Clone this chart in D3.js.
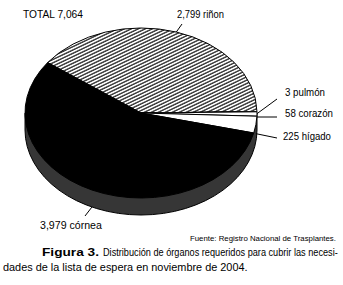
<!DOCTYPE html>
<html>
<head>
<meta charset="utf-8">
<script src="https://cdn.jsdelivr.net/npm/d3@7"></script>
<style>
  body { margin: 0; background: #fff; }
  text { font-family: "Liberation Sans", Arial, sans-serif; fill: #000; }
</style>
</head>
<body>
<svg id="chart" width="343" height="285"></svg>
<script>
// data
const organs = ['riñon', 'pulmón', 'corazón', 'hígado', 'córnea'];
const counts = [2799, 3, 58, 225, 3979];
const labels = ['2,799 riñon', '3 pulmón', '58 corazón', '225 hígado', '3,979 córnea'];
const total = 7064;

// layout
const cx = 141, cy = 113, rx = 116, ry = 85, depth = 17;
const start = -53.6 * Math.PI / 180;
const fills = ['url(#hatch)', '#fff', '#fff', '#fff', '#000'];
// label anchor + width, leader end, leader start shift
const labelPos = [
  { x: 177, y: 18, w: 47, lx: 182, ly: 24, dy: 0 },
  { x: 285, y: 96, w: 40, lx: 277, ly: 99, dy: 2 },
  { x: 285, y: 117, w: 48, lx: 277, ly: 117, dy: 3 },
  { x: 283, y: 140, w: 48, lx: 277, ly: 138, dy: 9 },
  { x: 40, y: 229, w: 62, lx: 85, ly: 216, dy: depth }
];

const svg = d3.select('#chart');
const defs = svg.append('defs');
const pat = defs.append('pattern')
  .attr('id', 'hatch')
  .attr('patternUnits', 'userSpaceOnUse')
  .attr('width', 8).attr('height', 3.8)
  .attr('patternTransform', 'rotate(-33)');
pat.append('rect').attr('width', 8).attr('height', 3.8).attr('fill', '#fff');
pat.append('line')
  .attr('x1', 0).attr('x2', 8).attr('y1', 1).attr('y2', 1)
  .attr('stroke', '#000').attr('stroke-width', 1.4);

// side of the pie
svg.append('path')
  .attr('d', `M${cx - rx},${cy} L${cx - rx},${cy + depth} A${rx},${ry} 0 0 0 ${cx + rx},${cy + depth} L${cx + rx},${cy} Z`)
  .attr('fill', '#363636')
  .attr('stroke', '#000')
  .attr('stroke-width', 1);

const pie = d3.pie().sort(null).value(d => d)
  .startAngle(start).endAngle(start + 2 * Math.PI);
const arcs = pie(counts);
const arc = d3.arc().innerRadius(0).outerRadius(rx);

const face = svg.append('g')
  .attr('transform', `translate(${cx},${cy}) scale(1,${ry / rx})`);
face.selectAll('path')
  .data(arcs)
  .join('path')
  .attr('d', arc)
  .attr('fill', (d, i) => fills[i])
  .attr('stroke', '#000')
  .attr('stroke-width', 1)
  .attr('vector-effect', 'non-scaling-stroke');

// leaders + labels
const pt = a => [cx + rx * Math.sin(a), cy - ry * Math.cos(a)];
svg.selectAll('line.leader')
  .data(arcs)
  .join('line')
  .attr('class', 'leader')
  .attr('x1', d => pt((d.startAngle + d.endAngle) / 2)[0])
  .attr('y1', (d, i) => pt((d.startAngle + d.endAngle) / 2)[1] + labelPos[i].dy)
  .attr('x2', (d, i) => labelPos[i].lx)
  .attr('y2', (d, i) => labelPos[i].ly)
  .attr('stroke', '#000')
  .attr('stroke-width', 1);

// condensed text: squeeze each text to the width it has in the reference
function fitText(sel, x, y, w) {
  const len = sel.node().getComputedTextLength();
  sel.attr('transform', `translate(${x},${y}) scale(${w / len},1)`);
}

labels.forEach((t, i) => {
  const p = labelPos[i];
  const s = svg.append('text').attr('font-size', 10.5).text(t);
  fitText(s, p.x, p.y, p.w);
});

fitText(svg.append('text').attr('font-size', 10.5).text('TOTAL ' + d3.format(',')(total)), 23, 18, 60);
fitText(svg.append('text').attr('font-size', 7.5).text('Fuente: Registro Nacional de Trasplantes.'), 190, 241, 146);
fitText(svg.append('text').attr('font-size', 11.5).attr('font-weight', 'bold').attr('fill', '#222').text('Figura 3.'), 42, 256, 57);
fitText(svg.append('text').attr('font-size', 11.5).attr('fill', '#222').text('Distribución de órganos requeridos para cubrir las necesi-'), 103, 256, 235);
fitText(svg.append('text').attr('font-size', 11.5).attr('fill', '#222').text('dades de la lista de espera en noviembre de 2004.'), 3, 271, 245);
</script>
</body>
</html>
